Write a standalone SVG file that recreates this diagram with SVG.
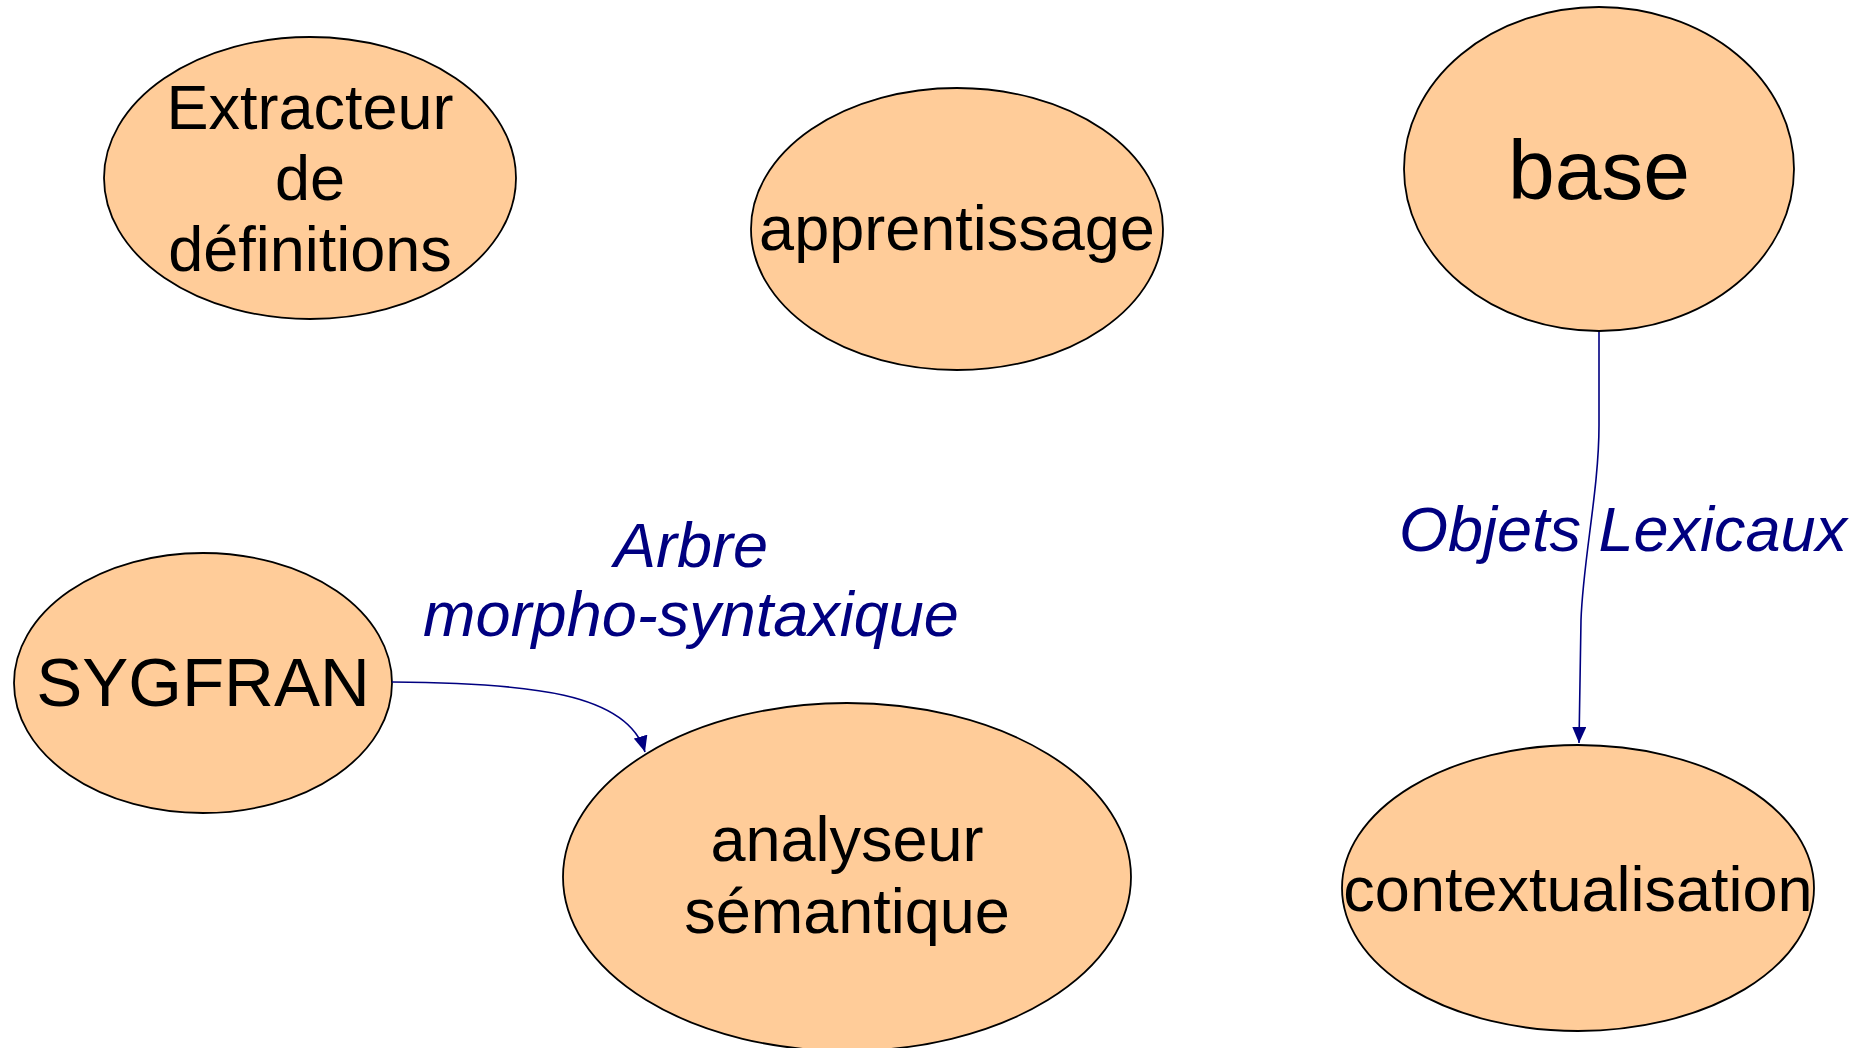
<svg xmlns="http://www.w3.org/2000/svg" width="1868" height="1048" viewBox="0 0 1868 1048">
<style>
.node ellipse{fill:#FFCC99;stroke:#000;stroke-width:1.8}
.node text{font-family:"Liberation Sans",Arial,sans-serif;font-size:63px;fill:#000;text-anchor:middle}
.edge{fill:none;stroke:#000080;stroke-width:1.6}
.lbl{font-family:"Liberation Sans",Arial,sans-serif;font-size:63px;font-style:italic;fill:#000080;text-anchor:middle}
</style>
<defs>
<marker id="arr" markerUnits="userSpaceOnUse" markerWidth="16" markerHeight="14" refX="16" refY="7" orient="auto">
<path d="M0,0 L16,7 L0,14 z" fill="#000080"/>
</marker>
</defs>
<rect width="1868" height="1048" fill="#fff"/>
<g id="extracteur" class="node">
<ellipse cx="310" cy="178" rx="206" ry="141"/>
<text x="310" y="129">Extracteur</text>
<text x="310" y="200">de</text>
<text x="310" y="271">définitions</text>
</g>
<g id="apprentissage" class="node">
<ellipse cx="957" cy="229" rx="206" ry="141"/>
<text x="957" y="250">apprentissage</text>
</g>
<g id="base" class="node">
<ellipse cx="1599" cy="169" rx="195" ry="162"/>
<text x="1599" y="199" style="font-size:84px">base</text>
</g>
<g id="sygfran" class="node">
<ellipse cx="203" cy="683" rx="189" ry="130"/>
<text x="203" y="706" style="font-size:69px">SYGFRAN</text>
</g>
<g id="analyseur" class="node">
<ellipse cx="847" cy="877" rx="284" ry="174"/>
<text x="847" y="861">analyseur</text>
<text x="847" y="933">sémantique</text>
</g>
<g id="contextualisation" class="node">
<ellipse cx="1578" cy="888" rx="236" ry="143"/>
<text x="1578" y="911">contextualisation</text>
</g>
<g id="connectors">
<path class="edge" d="M392,682 C530,683 628,693 645,752" marker-end="url(#arr)"/>
<text class="lbl" x="691" y="567">Arbre</text>
<text class="lbl" x="691" y="636">morpho-syntaxique</text>
<path class="edge" d="M1599,332 L1599,425 C1599,490 1583,560 1581,620 L1579,743" marker-end="url(#arr)"/>
<text class="lbl" x="1623" y="551">Objets Lexicaux</text>
</g>
</svg>
